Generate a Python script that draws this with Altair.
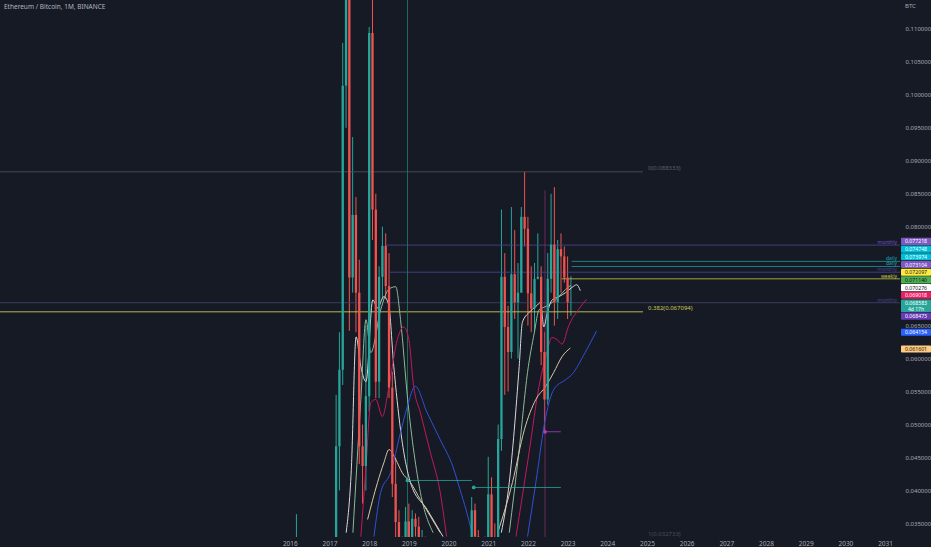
import altair as alt
import pandas as pd

# ---------------- monthly ETH/BTC candles ----------------
months = [f"{y}-{m:02d}" for y in range(2016, 2024) for m in range(1, 13)][:86]

opens = [
    0.0024, 0.0057, 0.0145, 0.0278, 0.0190, 0.0272, 0.0218, 0.0196, 0.0207, 0.0213, 0.0160, 0.0116,
    0.0083, 0.0109, 0.0267, 0.0467, 0.0583, 0.1014, 0.1170, 0.0723, 0.0818, 0.0700, 0.0467, 0.0437,
    0.0543, 0.1094, 0.0826, 0.0565, 0.0724, 0.0771, 0.0710, 0.0556, 0.0410, 0.0352, 0.0310, 0.0270,
    0.0353, 0.0306, 0.0357, 0.0345, 0.0306, 0.0316, 0.0272, 0.0215, 0.0179, 0.0217, 0.0200, 0.0198,
    0.0180, 0.0193, 0.0260, 0.0206, 0.0244, 0.0243, 0.0246, 0.0307, 0.0370, 0.0330, 0.0278, 0.0310,
    0.0253, 0.0394, 0.0314, 0.0309, 0.0478, 0.0724, 0.0648, 0.0610, 0.0728, 0.0685, 0.0700, 0.0815,
    0.0797, 0.0699, 0.0676, 0.0721, 0.0724, 0.0610, 0.0538, 0.0721, 0.0773, 0.0685, 0.0766, 0.0755,
    0.0723, 0.0685,
]
highs = [
    0.0060, 0.0160, 0.0364, 0.0300, 0.0290, 0.0320, 0.0230, 0.0215, 0.0225, 0.0220, 0.0170, 0.0120,
    0.0120, 0.0280, 0.0545, 0.0640, 0.1079, 0.1560, 0.1200, 0.0936, 0.0845, 0.0750, 0.0500, 0.0650,
    0.1103, 0.1160, 0.0850, 0.0740, 0.0800, 0.0790, 0.0760, 0.0580, 0.0450, 0.0370, 0.0330, 0.0375,
    0.0380, 0.0370, 0.0365, 0.0360, 0.0340, 0.0330, 0.0290, 0.0220, 0.0225, 0.0230, 0.0210, 0.0200,
    0.0200, 0.0285, 0.0270, 0.0250, 0.0255, 0.0260, 0.0320, 0.0390, 0.0380, 0.0340, 0.0320, 0.0330,
    0.0451, 0.0420, 0.0350, 0.0500, 0.0826, 0.0760, 0.0680, 0.0830, 0.0795, 0.0745, 0.0830, 0.0883,
    0.0815, 0.0740, 0.0745, 0.0790, 0.0740, 0.0640, 0.0760, 0.0850, 0.0860, 0.0780, 0.0790, 0.0770,
    0.0755, 0.0725,
]
lows = [
    0.0023, 0.0055, 0.0140, 0.0180, 0.0185, 0.0200, 0.0170, 0.0180, 0.0190, 0.0150, 0.0110, 0.0075,
    0.0080, 0.0105, 0.0250, 0.0400, 0.0560, 0.0950, 0.0642, 0.0700, 0.0640, 0.0440, 0.0380, 0.0400,
    0.0520, 0.0780, 0.0540, 0.0540, 0.0690, 0.0690, 0.0540, 0.0390, 0.0320, 0.0300, 0.0260, 0.0260,
    0.0300, 0.0290, 0.0330, 0.0290, 0.0280, 0.0260, 0.0190, 0.0170, 0.0170, 0.0190, 0.0190, 0.0175,
    0.0175, 0.0190, 0.0195, 0.0200, 0.0230, 0.0238, 0.0240, 0.0300, 0.0300, 0.0270, 0.0250, 0.0200,
    0.0240, 0.0290, 0.0290, 0.0300, 0.0460, 0.0545, 0.0550, 0.0600, 0.0660, 0.0600, 0.0700, 0.0770,
    0.0650, 0.0640, 0.0640, 0.0720, 0.0590, 0.0489, 0.0530, 0.0700, 0.0650, 0.0660, 0.0700, 0.0715,
    0.0660, 0.0665,
]
closes = [
    0.0057, 0.0145, 0.0278, 0.0190, 0.0272, 0.0218, 0.0196, 0.0207, 0.0213, 0.0160, 0.0116, 0.0083,
    0.0109, 0.0267, 0.0467, 0.0583, 0.1014, 0.1170, 0.0723, 0.0818, 0.0700, 0.0467, 0.0437, 0.0543,
    0.1094, 0.0826, 0.0565, 0.0724, 0.0771, 0.0710, 0.0556, 0.0410, 0.0352, 0.0310, 0.0270, 0.0353,
    0.0306, 0.0357, 0.0345, 0.0306, 0.0316, 0.0272, 0.0215, 0.0179, 0.0217, 0.0200, 0.0198, 0.0180,
    0.0193, 0.0260, 0.0206, 0.0244, 0.0243, 0.0246, 0.0307, 0.0370, 0.0330, 0.0278, 0.0310, 0.0253,
    0.0394, 0.0314, 0.0309, 0.0478, 0.0724, 0.0648, 0.0610, 0.0728, 0.0685, 0.0700, 0.0815, 0.0797,
    0.0699, 0.0676, 0.0721, 0.0724, 0.0610, 0.0538, 0.0721, 0.0773, 0.0685, 0.0766, 0.0755, 0.0723,
    0.0685, 0.068583,
]

# ---------------- moving-average curves (time in years, price) ----------------
white_t = [2017.42, 2017.55, 2017.67, 2017.79, 2017.92, 2018.09, 2018.21, 2018.37, 2018.49, 2018.62,
           2018.79, 2019.04, 2019.46, 2019.86]
white_v = [0.0336, 0.0432, 0.0633, 0.0588, 0.0565, 0.0689, 0.0677, 0.0694, 0.0682, 0.0588,
           0.0492, 0.0412, 0.0371, 0.0330]
white2_t = [2021.33, 2021.53, 2021.78, 2021.86, 2022.03, 2022.20, 2022.32, 2022.40, 2022.49, 2022.61,
            2022.78, 2022.95, 2023.11, 2023.23, 2023.32]
white2_v = [0.0336, 0.0412, 0.0588, 0.0655, 0.0670, 0.0679, 0.0685, 0.0648, 0.0670, 0.0689,
            0.0694, 0.0700, 0.0708, 0.0712, 0.0703]

green_t = [2017.59, 2017.79, 2017.92, 2018.04, 2018.29, 2018.49, 2018.67, 2018.79, 2018.97, 2019.29, 2019.61]
green_v = [0.0336, 0.0538, 0.0659, 0.0609, 0.0674, 0.0705, 0.0709, 0.0659, 0.0538, 0.0397, 0.0336]
green2_t = [2021.53, 2021.78, 2021.99, 2022.16, 2022.28, 2022.45, 2022.61, 2022.78, 2022.95, 2023.08]
green2_v = [0.0336, 0.0462, 0.0579, 0.0639, 0.0674, 0.0679, 0.0685, 0.0694, 0.0705, 0.0711]

pink_t = [2017.79, 2017.92, 2018.04, 2018.17, 2018.33, 2018.50, 2018.71, 2018.87, 2019.00, 2019.12,
          2019.29, 2019.54, 2019.79, 2019.95]
pink_v = [0.0330, 0.0436, 0.0533, 0.0538, 0.0512, 0.0558, 0.0629, 0.0648, 0.0629, 0.0558,
          0.0518, 0.0458, 0.0397, 0.0330]
pink2_t = [2021.70, 2022.03, 2022.28, 2022.49, 2022.60, 2022.75, 2022.86, 2023.03, 2023.28, 2023.48]
pink2_v = [0.0330, 0.0458, 0.0558, 0.0612, 0.0632, 0.0628, 0.0622, 0.0650, 0.0675, 0.0690]

beige_t = [2017.96, 2018.21, 2018.37, 2018.50, 2018.67, 2018.83, 2019.04, 2019.29, 2019.54, 2019.79]
beige_v = [0.0356, 0.0412, 0.0442, 0.0462, 0.0447, 0.0427, 0.0412, 0.0386, 0.0361, 0.0336]
beige2_t = [2021.24, 2021.61, 2021.91, 2022.20, 2022.45, 2022.65, 2022.86, 2023.07]
beige2_v = [0.0336, 0.0412, 0.0492, 0.0538, 0.0558, 0.0579, 0.0603, 0.0616]

blue_t = [2018.12, 2018.29, 2018.54, 2018.79, 2018.96, 2019.16, 2019.46, 2019.79, 2020.11, 2020.29,
          2020.44, 2020.59]
blue_v = [0.0330, 0.0397, 0.0427, 0.0488, 0.0527, 0.0558, 0.0518, 0.0477, 0.0436, 0.0401,
          0.0371, 0.0336]
blue2_t = [2021.99, 2022.20, 2022.45, 2022.65, 2022.95, 2023.11, 2023.44, 2023.73]
blue2_v = [0.0330, 0.0412, 0.0512, 0.0553, 0.0568, 0.0576, 0.0609, 0.0642]

# ---------------- drawn horizontal levels ----------------
level_price = [0.088333, 0.067094, 0.077218, 0.073104, 0.068473, 0.074748, 0.073974, 0.072097]
level_start = [2008.0, 2008.0, 2018.42, 2018.49, 2008.0, 2023.10, 2023.10, 2022.85]
level_end = [2024.90, 2024.90, 2032.0, 2032.0, 2032.0, 2032.0, 2032.0, 2032.0]
level_color = ["#4a4e5a", "#c9c94f", "#4b3f8a", "#4b3f8a", "#3c4060", "#1f8a93", "#1f8a93", "#b5b23c"]

level_tag_price = [0.077218, 0.074748, 0.073974, 0.073104, 0.072097, 0.068473]
level_tag_text = ["monthly", "daily", "daily", "monthly", "weekly", "monthly"]
level_tag_color = ["#6a55c0", "#1fa3ad", "#1fa3ad", "#4e4290", "#c9c94f", "#4e4290"]

# price tags on the right scale
tag_price = [0.077218, 0.074748, 0.073974, 0.073104, 0.072097, 0.071140, 0.070276,
             0.069018, 0.068583, 0.068473, 0.064154, 0.061601]
tag_fill = ["#7e57c2", "#00bcd4", "#00bcd4", "#7e57c2", "#ffeb3b", "#4caf50", "#ffffff",
            "#e91e63", "#26a69a", "#673ab7", "#2962ff", "#ffcc80"]
tag_ink = ["#ffffff", "#ffffff", "#ffffff", "#ffffff", "#131722", "#131722", "#131722",
           "#ffffff", "#ffffff", "#ffffff", "#ffffff", "#131722"]
last_price = 0.068583
countdown = "4d 17h"

# y-axis values that stay visible beside the price tags
axis_prices = [0.035, 0.040, 0.045, 0.050, 0.055, 0.060, 0.065, 0.080, 0.085, 0.090, 0.095, 0.100,
               0.105, 0.110]
axis_years = list(range(2016, 2032))

# signal markers: vertical rays and dotted levels
ray_t = [2018.965, 2022.43]
ray_top = [0.114394, 0.0855]
ray_color = ["#1e7a62", "#7a2f60"]
sig_t0 = [2018.965, 2020.635, 2022.43]
sig_t1 = [2020.585, 2022.83, 2022.83]
sig_p = [0.04151, 0.04045, 0.0489]
sig_color = ["#26a69a", "#26a69a", "#b23bc4"]

# ---------------- geometry of the price pane ----------------
W, H = 900, 537
Y_TOP, Y_BOT = 0.114394, 0.032937
X_MIN, X_MAX = 2008.823, 2031.25
BG = "#161a25"
AXIS_INK = "#a6a9b2"
FONT = "Noto Sans"


def t_of(m):
    y, mo = m.split("-")
    return int(y) + (int(mo) - 1) / 12.0


candles = pd.DataFrame({
    "t": [t_of(m) for m in months], "open": opens, "high": highs,
    "low": lows, "close": closes,
})
candles["dir"] = ["up" if c >= o else "down" for o, c in zip(opens, closes)]

xs = alt.Scale(domain=[X_MIN, X_MAX], nice=False, zero=False)
ys = alt.Scale(domain=[Y_BOT, Y_TOP], nice=False, zero=False)
candle_col = alt.Color("dir:N", scale=alt.Scale(domain=["up", "down"], range=["#26a69a", "#ef5350"]),
                       legend=None)

x_axis = alt.Axis(values=axis_years, format="d", labelColor=AXIS_INK, labelFontSize=6.5,
                  labelFont=FONT, domain=False, ticks=False, grid=False, labelPadding=3, title=None,
                  labelOverlap=False)
y_axis = alt.Axis(orient="right", values=axis_prices, format=".6f",
                  labelColor=AXIS_INK, labelFontSize=6, labelFont=FONT, domain=False, ticks=False,
                  grid=False, labelPadding=5, title=None, labelOverlap=False)

base = alt.Chart(candles)
wicks = base.mark_rule(clip=True, strokeWidth=1).encode(
    x=alt.X("t:Q", scale=xs, axis=x_axis),
    y=alt.Y("low:Q", scale=ys, axis=y_axis),
    y2="high:Q",
    color=candle_col,
)
bodies = base.mark_bar(clip=True, size=2.3).encode(
    x="t:Q", y="open:Q", y2="close:Q", color=candle_col,
)

# moving averages
ma_frames = []
for name, tt, vv, col in [
    ("w1", white_t, white_v, "#d9d9d9"), ("w2", white2_t, white2_v, "#d9d9d9"),
    ("g1", green_t, green_v, "#8fb996"), ("g2", green2_t, green2_v, "#8fb996"),
    ("p1", pink_t, pink_v, "#c2185b"), ("p2", pink2_t, pink2_v, "#c2185b"),
    ("b1", beige_t, beige_v, "#d8c7a6"), ("b2", beige2_t, beige2_v, "#d8c7a6"),
    ("u1", blue_t, blue_v, "#3050d8"), ("u2", blue2_t, blue2_v, "#3050d8"),
]:
    ma_frames.append(pd.DataFrame({"t": tt, "v": vv, "line": name, "col": col}))
ma = pd.concat(ma_frames, ignore_index=True)
ma_lines = alt.Chart(ma).mark_line(clip=True, strokeWidth=1, interpolate="monotone").encode(
    x="t:Q", y="v:Q", detail="line:N", color=alt.Color("col:N", scale=None),
)

# horizontal levels
levels = pd.DataFrame({"p": level_price, "t0": level_start, "t1": level_end, "col": level_color})
level_rules = alt.Chart(levels).mark_rule(clip=True, strokeWidth=1, opacity=0.9).encode(
    x="t0:Q", x2="t1:Q", y="p:Q", color=alt.Color("col:N", scale=None),
)
level_tags = pd.DataFrame({"p": level_tag_price, "txt": level_tag_text, "col": level_tag_color})
level_text = alt.Chart(level_tags).mark_text(align="right", baseline="bottom", fontSize=5, font=FONT,
                                             dy=0).encode(
    x=alt.value(897), y="p:Q", text="txt:N", color=alt.Color("col:N", scale=None),
)

# fibonacci labels
fib = pd.DataFrame({"p": [0.088333, 0.067094, 0.032733],
                    "txt": ["0(0.088333)", "0.382(0.067094)", "1(0.032733)"],
                    "col": ["#5d606b", "#c9c94f", "#4a4d58"]})
fib_text = alt.Chart(fib).mark_text(align="left", baseline="bottom", fontSize=6, font=FONT, dy=-1,
                                    clip=False).encode(
    x=alt.value(648), y="p:Q", text="txt:N", color=alt.Color("col:N", scale=None),
)

# signal markers
ray_layers = []
for rt, rtop, rc in zip(ray_t, ray_top, ray_color):
    ray_layers.append(
        alt.Chart(pd.DataFrame({"t": [rt], "top": [rtop]})).mark_rule(
            clip=True, strokeWidth=1, color=rc, opacity=0.85).encode(
            x="t:Q", y="top:Q", y2=alt.value(H))
    )
marks = pd.DataFrame({"t0": sig_t0, "t1": sig_t1, "p": sig_p, "col": sig_color})
mark_lines = alt.Chart(marks).mark_rule(clip=True, strokeWidth=1, opacity=0.8).encode(
    x="t0:Q", x2="t1:Q", y="p:Q", color=alt.Color("col:N", scale=None),
)
mark_dots = alt.Chart(marks).mark_circle(size=14, opacity=1, clip=True).encode(
    x="t0:Q", y="p:Q", color=alt.Color("col:N", scale=None),
)

# right-hand price tags: the last-price tag stays on its price, the others are pushed away from it
BOX = 7.7
LAST_BOX = 13.1
TAG_SHIFT = 1.0


def px(v):
    return (Y_TOP - v) / (Y_TOP - Y_BOT) * H


def val(p):
    return Y_TOP - p / H * (Y_TOP - Y_BOT)


k = tag_price.index(last_price)
tops = [0.0] * len(tag_price)
hts = [LAST_BOX if j == k else BOX for j in range(len(tag_price))]
tops[k] = px(last_price) + TAG_SHIFT - BOX / 2
limit = tops[k]
for j in range(k - 1, -1, -1):
    tops[j] = min(px(tag_price[j]) + TAG_SHIFT - BOX / 2, limit - BOX)
    limit = tops[j]
limit = tops[k] + LAST_BOX
for j in range(k + 1, len(tag_price)):
    tops[j] = max(px(tag_price[j]) + TAG_SHIFT - BOX / 2, limit)
    limit = tops[j] + BOX

rows = []
for j in range(len(tag_price)):
    y0 = tops[j]
    rows.append({"y0": val(y0 + 0.3), "y1": val(y0 + hts[j] - 0.3), "ym": val(y0 + BOX / 2),
                 "yc": val(y0 + BOX / 2 + 6.2), "txt": f"{tag_price[j]:.6f}",
                 "extra": countdown if j == k else "",
                 "fill": tag_fill[j], "ink": tag_ink[j]})
tags = pd.DataFrame(rows)
tag_boxes = alt.Chart(tags).mark_rect(clip=False, cornerRadius=1).encode(
    x=alt.value(901), x2=alt.value(931), y="y0:Q", y2="y1:Q", color=alt.Color("fill:N", scale=None),
)
tag_text = alt.Chart(tags).mark_text(clip=False, fontSize=5.2, font=FONT, align="center",
                                     baseline="middle").encode(
    x=alt.value(916), y="ym:Q", text="txt:N", color=alt.Color("ink:N", scale=None),
)
tag_extra = alt.Chart(tags[tags["extra"] != ""]).mark_text(clip=False, fontSize=5, font=FONT,
                                                          align="center", baseline="middle").encode(
    x=alt.value(916), y="yc:Q", text="extra:N", color=alt.Color("ink:N", scale=None),
)

# header texts
header = pd.DataFrame({"txt": ["Ethereum / Bitcoin, 1M, BINANCE"]})
title = alt.Chart(header).mark_text(align="left", baseline="middle", fontSize=6.5, font=FONT,
                                    color="#b2b5be", clip=False).encode(
    x=alt.value(4), y=alt.value(7), text="txt:N")
unit = alt.Chart(pd.DataFrame({"txt": ["BTC"]})).mark_text(
    align="left", baseline="middle", fontSize=6, font=FONT, color="#a6a9b2", clip=False).encode(
    x=alt.value(905), y=alt.value(6), text="txt:N")

chart = alt.layer(
    wicks, level_rules, *ray_layers, ma_lines, bodies, mark_lines, mark_dots,
    level_text, fib_text, tag_boxes, tag_text, tag_extra, title, unit,
).properties(
    width=W, height=H, background=BG, padding={"left": 0, "top": 0, "right": 0, "bottom": 0},
).configure_view(stroke=None).resolve_scale(color="independent")

chart.save("out.html", embed_options={"renderer": "svg", "actions": False})
